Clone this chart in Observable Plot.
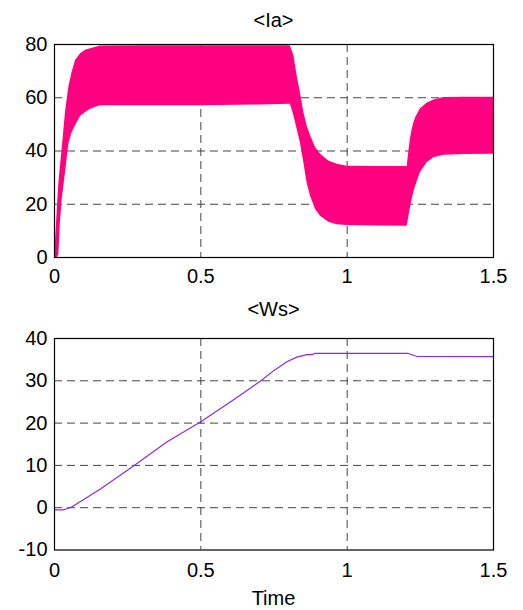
<!DOCTYPE html>
<html>
<head>
<meta charset="utf-8">
<script src="https://cdn.jsdelivr.net/npm/d3@7"></script>
<script src="https://cdn.jsdelivr.net/npm/@observablehq/plot@0.6"></script>
<style>
  body { margin: 0; background: white; }
  #root { position: relative; width: 523px; height: 610px; font-family: Arial, "Liberation Sans", sans-serif; color: black; }
  .ttl { position: absolute; left: 54px; width: 439px; text-align: center; font-size: 20px; line-height: 1; white-space: nowrap; }
  .plot { position: absolute; left: 0; }
</style>
</head>
<body>
<div id="root">
  <div class="ttl" style="top:10px">&lt;Ia&gt;</div>
  <div class="plot" id="p1" style="top:30px"></div>
  <div class="ttl" style="top:299px">&lt;Ws&gt;</div>
  <div class="plot" id="p2" style="top:320px"></div>
  <div class="ttl" style="top:588px">Time</div>
</div>
<script>
// ---- Data: <Ia> (envelope of the dense oscillation) ----
const iaTime  = [0, 0.005, 0.01, 0.015, 0.02, 0.026, 0.0375, 0.049, 0.06, 0.072, 0.089, 0.106, 0.123, 0.157, 0.3, 0.5, 0.7, 0.806, 0.818, 0.829, 0.84, 0.852, 0.863, 0.875, 0.892, 0.909, 0.937, 0.966, 1.0, 1.1, 1.205, 1.211, 1.216, 1.222, 1.228, 1.234, 1.25, 1.273, 1.296, 1.33, 1.4, 1.5];
const iaUpper = [0, 9, 19, 28, 34, 40.5, 54.5, 64, 69.5, 74, 76.5, 77.8, 78.4, 79.4, 79.5, 79.5, 79.5, 79.5, 75.8, 68.3, 62, 54.5, 49.4, 45.7, 41.3, 38.8, 36.2, 35, 34.3, 34.2, 34.2, 40, 44.4, 48, 50.7, 52.5, 55.8, 57.9, 59.2, 60.1, 60.2, 60.2];
const iaLower = [0, 0, 0, 1, 13, 21.5, 31.8, 42.5, 46.9, 49.5, 53, 54.5, 55.7, 57, 57, 57, 57.3, 57.6, 53.2, 48.2, 43.2, 35.6, 28, 23, 18, 15.5, 13.2, 12.3, 12, 11.8, 11.7, 15.5, 18.5, 21.8, 24.5, 26.8, 31.8, 35.6, 37.5, 38.4, 38.7, 38.8];

// ---- Data: <Ws> ----
const wsTime  = [0, 0.03, 0.045, 0.06, 0.157, 0.271, 0.385, 0.5, 0.612, 0.703, 0.749, 0.794, 0.828, 0.863, 0.88, 0.891, 1.207, 1.239, 1.5];
const wsValue = [-0.5, -0.5, -0.2, 0.2, 4.4, 9.9, 15.6, 20.3, 25.5, 29.9, 32.4, 34.5, 35.6, 36.2, 36.2, 36.5, 36.5, 35.75, 35.7];

// ---- Axis ticks ----
const xTicks = [0, 0.5, 1, 1.5];
const iaYTicks = [0, 20, 40, 60, 80];
const wsYTicks = [-10, 0, 10, 20, 30, 40];
const iaGridY = [20, 40, 60];
const wsGridY = [0, 10, 20, 30];
const gridX = [0.5, 1];

const iaData = iaTime.map((t, i) => ({t, up: iaUpper[i], lo: iaLower[i]}));
const wsData = wsTime.map((t, i) => ({t, w: wsValue[i]}));

const style = {fontSize: "20px", fontFamily: "Arial, 'Liberation Sans', sans-serif", color: "black", background: "white", overflow: "visible"};
const dash = {stroke: "#444", strokeWidth: 1, strokeDasharray: "8,5"};
const fmt = d => String(d);

const p1 = Plot.plot({
  width: 523, height: 260,
  marginLeft: 54, marginRight: 30, marginTop: 14, marginBottom: 33,
  style,
  x: {domain: [0, 1.5], ticks: xTicks, tickFormat: fmt, tickSize: 0, tickPadding: 11, label: null},
  y: {domain: [0, 80], ticks: iaYTicks, tickFormat: fmt, tickSize: 0, tickPadding: 7, label: null},
  marks: [
    Plot.ruleY(iaGridY, dash),
    Plot.ruleX(gridX, dash),
    Plot.areaY(iaData, {x: "t", y1: "lo", y2: "up", fill: "#ff0080"}),
    Plot.frame({stroke: "black", strokeWidth: 1.2})
  ]
});
document.getElementById("p1").append(p1);

const p2 = Plot.plot({
  width: 523, height: 260,
  marginLeft: 54, marginRight: 30, marginTop: 18, marginBottom: 30.5,
  style,
  x: {domain: [0, 1.5], ticks: xTicks, tickFormat: fmt, tickSize: 0, tickPadding: 13, label: null},
  y: {domain: [-10, 40], ticks: wsYTicks, tickFormat: fmt, tickSize: 0, tickPadding: 7, label: null},
  marks: [
    Plot.ruleY(wsGridY, dash),
    Plot.ruleX(gridX, dash),
    Plot.line(wsData, {x: "t", y: "w", stroke: "#8a2be2", strokeWidth: 1.2}),
    Plot.frame({stroke: "black", strokeWidth: 1.2})
  ]
});
document.getElementById("p2").append(p2);
</script>
</body>
</html>
